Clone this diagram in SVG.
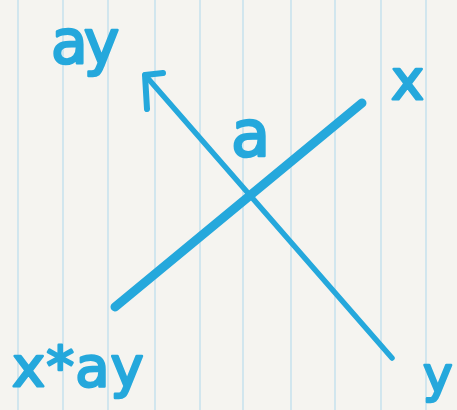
<svg xmlns="http://www.w3.org/2000/svg" width="457" height="410" viewBox="0 0 457 410">
<style>
.rule{stroke:#c9e3ee;stroke-width:1.6}
.ink{stroke:#25a8dc;fill:none;stroke-linecap:round;stroke-linejoin:round}
.lbl{font-family:"DejaVu Sans",sans-serif;fill:#25a8dc;stroke:#25a8dc;stroke-width:2.5;stroke-linejoin:round}
</style>
<rect width="457" height="410" fill="#f5f4f0"/>
<g id="paper">
<line class="rule" x1="18" y1="0" x2="18" y2="410"/>
<line class="rule" x1="63" y1="0" x2="63" y2="410"/>
<line class="rule" x1="108" y1="0" x2="108" y2="410"/>
<line class="rule" x1="155" y1="0" x2="155" y2="410"/>
<line class="rule" x1="200" y1="0" x2="200" y2="410"/>
<line class="rule" x1="243" y1="0" x2="243" y2="410"/>
<line class="rule" x1="291" y1="0" x2="291" y2="410"/>
<line class="rule" x1="335" y1="0" x2="335" y2="410"/>
<line class="rule" x1="381" y1="0" x2="381" y2="410"/>
<line class="rule" x1="426" y1="0" x2="426" y2="410"/>
</g>
<g id="connectors">
<line class="ink" x1="115" y1="307" x2="362" y2="103" stroke-width="9"/>
<path class="ink" d="M392,358 L145,75" stroke-width="5.5"/>
<path class="ink" d="M163,73 L145,75 L147,109" stroke-width="6"/>
</g>
<g id="label-ay"><text class="lbl" x="51" y="63" font-size="60" letter-spacing="-4">ay</text></g>
<g id="label-a"><text class="lbl" x="231" y="156" font-size="64">a</text></g>
<g id="label-x"><text class="lbl" x="391" y="99" font-size="56">x</text></g>
<g id="label-xay"><text class="lbl" x="12" y="386" font-size="56" letter-spacing="1">x*ay</text></g>
<g id="label-y"><text class="lbl" x="423" y="392" font-size="50">y</text></g>
</svg>
